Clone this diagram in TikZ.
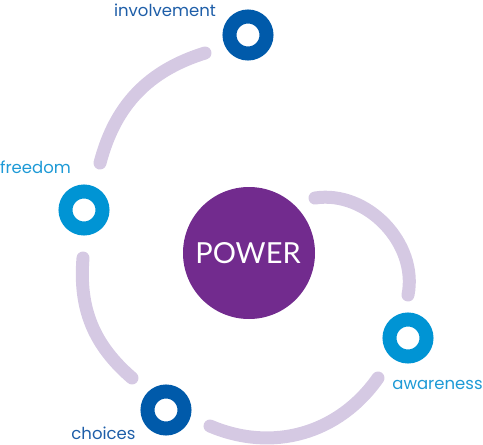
\documentclass[tikz,border=0pt]{standalone}
\usepackage{fontspec}
\setmainfont{Lato}
\newfontfamily\lblfont{Poppins}
\definecolor{powerpurple}{HTML}{722B8E}
\definecolor{darkring}{HTML}{005AAA}
\definecolor{lightring}{HTML}{0094D4}
\definecolor{lavender}{HTML}{D5C9E3}
\definecolor{darklabel}{HTML}{1E5EA8}
\definecolor{lightlabel}{HTML}{1E9AD6}
\begin{document}
\begin{tikzpicture}[x=1pt,y=-1pt,
  ringdark/.style={circle,draw=darkring,line width=14pt,minimum size=37pt,inner sep=0pt},
  ringlight/.style={circle,draw=lightring,line width=14pt,minimum size=37pt,inner sep=0pt},
  arcline/.style={draw=lavender,line width=13pt,line cap=round},
  lbl/.style={anchor=base,font=\lblfont\fontsize{16.5}{16.5}\selectfont,inner sep=0pt}]
\useasboundingbox (0,0) rectangle (483,445);
\node[circle,fill=powerpurple,minimum size=132pt,inner sep=0pt] (power) at (249,253) {};
\node[anchor=base,text=white,font=\fontsize{29}{29}\selectfont,inner sep=0pt] (powertext) at (248,263) {POWER};
\node[ringdark] (inv) at (248,35) {};
\node[ringlight] (free) at (84,210) {};
\node[ringlight] (aware) at (408,338) {};
\node[ringdark] (cho) at (166,410) {};
\node[lbl,text=darklabel] (invl) at (165,16) {involvement};
\node[lbl,text=lightlabel] (freel) at (35.5,173) {freedom};
\node[lbl,text=lightlabel] (awarel) at (437.5,389) {awareness};
\node[lbl,text=darklabel] (chol) at (103.5,439) {choices};
\coordinate (a1s) at (205,53); \coordinate (a1e) at (100,163);
\coordinate (a2s) at (83,258); \coordinate (a2e) at (132,378);
\coordinate (a3s) at (210,426); \coordinate (a3e) at (378,378);
\coordinate (a4s) at (315,198); \coordinate (a4e) at (408,295);
\draw[arcline] (a1s) to[bend right=29] (a1e);
\draw[arcline] (a2s) to[bend right=27] (a2e);
\draw[arcline] (a3s) to[bend right=39] (a3e);
\draw[arcline] (a4s) to[bend left=55] (a4e);
\end{tikzpicture}
\end{document}
